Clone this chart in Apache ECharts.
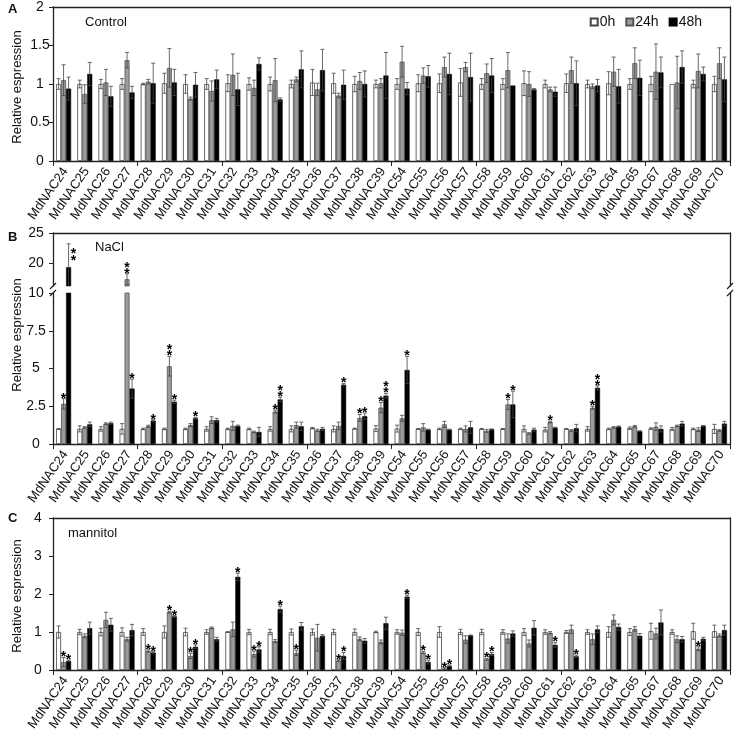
<!DOCTYPE html>
<html><head><meta charset="utf-8">
<script src="https://cdn.jsdelivr.net/npm/echarts@6/dist/echarts.min.js"></script>
<style>html,body{margin:0;padding:0;background:#fff}#c{width:737px;height:732px}</style>
</head><body><div id="c"></div>
<script>
const categories = ['MdNAC24','MdNAC25','MdNAC26','MdNAC27','MdNAC28','MdNAC29','MdNAC30','MdNAC31','MdNAC32','MdNAC33','MdNAC34','MdNAC35','MdNAC36','MdNAC37','MdNAC38','MdNAC39','MdNAC54','MdNAC55','MdNAC56','MdNAC57','MdNAC58','MdNAC59','MdNAC60','MdNAC61','MdNAC62','MdNAC63','MdNAC64','MdNAC65','MdNAC67','MdNAC68','MdNAC69','MdNAC70'];
const seriesNames = ['0h','24h','48h'];

// Panel A: Control
const ctrl0 = [1.0,1.0,1.0,1.0,1.0,1.01,1.0,1.0,1.01,1.0,1.0,1.0,1.02,1.01,1.0,1.0,1.0,1.01,1.01,1.02,1.0,1.0,1.01,1.0,1.01,1.0,1.01,1.0,1.0,1.0,1.0,1.0];
const ctrl0Err = [0.07,0.05,0.06,0.07,0.01,0.13,0.12,0.07,0.11,0.08,0.09,0.05,0.17,0.13,0.1,0.05,0.07,0.11,0.12,0.18,0.07,0.07,0.16,0.05,0.12,0.05,0.15,0.07,0.1,0.0,0.05,0.1];
const ctrl24 = [1.05,0.87,1.02,1.31,1.03,1.21,0.81,0.91,1.12,0.95,1.05,1.06,0.93,0.85,1.04,1.01,1.29,1.11,1.22,1.22,1.14,1.18,1.0,0.93,1.18,0.97,1.16,1.27,1.16,1.02,1.17,1.27];
const ctrl24Err = [0.2,0.12,0.17,0.1,0.03,0.25,0.02,0.13,0.27,0.1,0.28,0.03,0.08,0.03,0.11,0.06,0.2,0.1,0.13,0.06,0.12,0.23,0.16,0.03,0.17,0.03,0.19,0.2,0.36,0.34,0.22,0.2];
const ctrl48 = [0.94,1.13,0.84,0.89,1.01,1.02,0.99,1.06,0.93,1.26,0.80,1.19,1.18,0.99,1.0,1.11,0.94,1.1,1.13,1.09,1.11,0.98,0.93,0.9,1.01,0.98,0.97,1.08,1.15,1.22,1.13,1.06];
const ctrl48Err = [0.15,0.15,0.13,0.08,0.26,0.17,0.16,0.12,0.21,0.08,0.02,0.24,0.27,0.19,0.17,0.3,0.08,0.14,0.27,0.31,0.22,0.0,0.01,0.06,0.29,0.08,0.22,0.23,0.2,0.21,0.09,0.29];

// Panel B: NaCl
const nacl0 = [1.0,1.0,1.0,1.0,1.0,1.0,1.0,1.0,1.0,1.0,1.0,1.0,1.05,1.0,1.02,1.02,1.02,1.0,1.0,1.0,1.0,1.0,1.0,0.95,1.0,1.0,1.0,1.05,1.02,1.0,1.0,1.0];
const nacl0Err = [0.03,0.2,0.15,0.35,0.05,0.05,0.05,0.15,0.05,0.05,0.15,0.2,0.05,0.2,0.03,0.2,0.23,0.03,0.05,0.05,0.03,0.03,0.2,0.15,0.03,0.15,0.05,0.08,0.05,0.1,0.05,0.3];
const nacl24 = [2.66,1.1,1.35,17.3,1.17,5.15,1.25,1.58,1.2,0.8,2.15,1.25,0.9,1.2,1.73,2.41,1.7,1.1,1.3,1.0,0.87,2.62,0.7,1.45,0.9,2.4,1.1,1.17,1.15,1.2,0.95,0.9];
const nacl24Err = [0.34,0.05,0.05,0.9,0.07,0.65,0.1,0.22,0.3,0.05,0.1,0.2,0.08,0.25,0.22,0.34,0.2,0.25,0.2,0.2,0.1,0.33,0.05,0.05,0.05,0.1,0.05,0.06,0.25,0.05,0.12,0.05];
const nacl48 = [19.3,1.3,1.38,3.67,1.55,2.8,1.7,1.58,1.2,0.8,2.95,1.17,1.0,3.93,1.84,3.2,4.9,0.95,0.95,1.1,0.97,2.62,0.95,1.08,1.05,3.72,1.15,0.85,1.0,1.35,1.2,1.35];
const nacl48Err = [3.9,0.15,0.07,0.63,0.05,0.1,0.05,0.12,0.05,0.3,0.15,0.28,0.1,0.07,0.21,0.15,0.9,0.03,0.03,0.4,0.03,0.88,0.1,0.03,0.25,0.13,0.04,0.03,0.2,0.15,0.03,0.15];
const naclSig24 = [1,0,0,2,0,2,0,0,0,0,1,0,0,0,1,1,0,0,0,0,0,1,0,1,0,1,0,0,0,0,0,0];
const naclSig48 = [2,0,0,1,1,1,1,0,0,0,2,0,0,1,1,2,1,0,0,0,0,1,0,0,0,2,0,0,0,0,0,0];

// Panel C: mannitol
const man0 = [1.0,1.0,1.0,1.0,1.0,1.0,1.0,1.0,1.0,1.0,1.0,1.0,1.0,1.0,1.0,1.0,1.0,1.0,1.0,1.0,1.0,1.0,1.0,1.0,1.0,1.0,1.0,1.0,1.02,1.0,1.02,1.02];
const man0Err = [0.16,0.07,0.1,0.11,0.09,0.16,0.1,0.06,0.01,0.07,0.07,0.08,0.08,0.07,0.08,0.02,0.06,0.09,0.14,0.07,0.07,0.06,0.09,0.06,0.04,0.06,0.14,0.09,0.21,0.06,0.21,0.16];
const man24 = [0.21,0.9,1.32,0.81,0.5,1.52,0.37,1.11,1.07,0.42,0.76,0.45,0.85,0.25,0.82,0.74,0.98,0.46,0.04,0.8,0.28,0.83,0.7,0.98,1.07,0.81,1.32,1.08,0.96,0.81,0.56,0.91];
const man24Err = [0.12,0.05,0.2,0.05,0.03,0.02,0.07,0.02,0.19,0.08,0.04,0.07,0.35,0.02,0.05,0.05,0.07,0.03,0.02,0.1,0.02,0.12,0.09,0.03,0.11,0.14,0.13,0.06,0.14,0.09,0.05,0.04];
const man48 = [0.24,1.1,1.19,1.05,0.46,1.41,0.61,0.81,2.45,0.54,1.6,1.15,0.9,0.37,0.77,1.23,1.93,0.21,0.11,0.91,0.42,0.96,1.11,0.66,0.36,1.07,1.13,0.9,1.25,0.81,0.82,1.05];
const man48Err = [0.02,0.16,0.17,0.15,0.02,0.02,0.05,0.05,0.1,0.07,0.08,0.1,0.03,0.09,0.06,0.16,0.04,0.05,0.02,0.01,0.04,0.07,0.19,0.06,0.03,0.09,0.08,0.06,0.33,0.07,0.04,0.13];
const manSig24 = [1,0,0,0,1,1,1,0,0,1,0,1,0,1,0,0,0,1,1,0,1,0,0,0,0,0,0,0,0,0,1,0];
const manSig48 = [1,0,0,0,1,1,1,0,1,1,1,0,0,1,0,0,1,1,1,0,1,0,0,1,1,0,0,0,0,0,0,0];

const yTicksA = [0, 2, 0.5];
const yTicksBUp = [20, 25];
const yTicksBLow = [0, 10, 2.5];
const yTicksC = [0, 4, 1];
</script>
<script>
const FONT = '"Liberation Sans", Arial, sans-serif';
const BW = 5;
const LABEL_ROT = 55 * Math.PI / 180;
const AX = {color:'#222', width:1.3};
const styles = [
  {color:'#ffffff', borderColor:'#444', borderWidth:0.8},
  {color:'#9b9b9b', borderColor:'#555', borderWidth:0.8},
  {color:'#000000', borderColor:'#000', borderWidth:0.5}
];

const grids = [
  {left:53, right:7, top:7, height:154},
  {left:53, right:7, top:233, height:53},
  {left:53, right:7, top:293, height:151},
  {left:53, right:7, top:518, height:152}
];

function catAxis(gi, show) {
  return {type:'category', gridIndex:gi, data:categories, show:show,
    axisLine:{lineStyle:AX}, axisTick:{show:true, length:5, lineStyle:{color:'#222', width:1}},
    axisLabel:{show:false}};
}
function topAxis(gi) {
  return {type:'category', gridIndex:gi, data:categories, position:'top',
    axisLine:{onZero:false, lineStyle:AX}, axisTick:{show:false}, axisLabel:{show:false}};
}
function valAxis(gi, min, max, interval, margin, extra) {
  const a = {type:'value', gridIndex:gi, min:min, max:max, splitLine:{show:false},
    axisLine:{show:true, lineStyle:AX}, axisTick:{show:true, length:4, lineStyle:{color:'#222'}},
    axisLabel:{fontSize:14, color:'#111', fontFamily:FONT, margin:margin, align:'center'}};
  if (interval != null) a.interval = interval;
  return Object.assign(a, extra || {});
}
function rightAxis(gi, min, max) {
  return {type:'value', gridIndex:gi, position:'right', min:min, max:max, splitLine:{show:false},
    axisLine:{show:true, onZero:false, lineStyle:AX}, axisTick:{show:false}, axisLabel:{show:false}};
}

const xAxis = [catAxis(0,true), catAxis(1,false), catAxis(2,true), catAxis(3,true), topAxis(0), topAxis(1), topAxis(3)];
const upMin = 16.17;
const yAxis = [
  valAxis(0, yTicksA[0], yTicksA[1], yTicksA[2], 13),
  valAxis(1, upMin, 25, null, 17, {axisLabel:{fontSize:14, color:'#111', fontFamily:FONT, margin:17, align:'center', customValues:yTicksBUp}, axisTick:{show:true, length:4, lineStyle:{color:'#222'}, customValues:yTicksBUp}}),
  valAxis(2, yTicksBLow[0], yTicksBLow[1], yTicksBLow[2], 17),
  valAxis(3, yTicksC[0], yTicksC[1], yTicksC[2], 15),
  rightAxis(0, 0, 2), rightAxis(1, upMin, 25), rightAxis(2, 0, 10), rightAxis(3, 0, 4)
];

const series = [];
function addBars(xi, yi, lists) {
  lists.forEach((d, k) => {
    series.push({type:'bar', name:seriesNames[k], xAxisIndex:xi, yAxisIndex:yi, data:d,
      barWidth:BW, barGap:'0%', itemStyle:styles[k], clip:true, animation:false});
  });
}
function addErr(xi, yi, vals, errs, sigs, k, mode) {
  const data = vals.map((v, i) => [i, v, errs[i], sigs ? sigs[i] : 0]);
  series.push({type:'custom', name:'err'+k+'_'+xi, xAxisIndex:xi, yAxisIndex:yi, data:data, z:5, animation:false,
    renderItem: function(params, api) {
      const i = api.value(0), v = api.value(1), e = api.value(2), s = api.value(3);
      if (mode === 'low' && v > 10) return;
      if (mode === 'up' && v <= 10) return;
      const cs = params.coordSys;
      const cx = api.coord([i, v])[0] + (k - 1) * BW;
      let yT = api.coord([i, v + e])[1];
      let yB = api.coord([i, Math.max(v - e, 0)])[1];
      yB = Math.min(yB, cs.y + cs.height);
      const ch = [];
      const ls = {stroke:'#444', lineWidth:0.8};
      if (e > 0) {
        ch.push({type:'line', shape:{x1:cx, y1:yT, x2:cx, y2:yB}, style:ls});
        ch.push({type:'line', shape:{x1:cx-2, y1:yT, x2:cx+2, y2:yT}, style:ls});
        if (v - e > 0 && yB < cs.y + cs.height) ch.push({type:'line', shape:{x1:cx-2, y1:yB, x2:cx+2, y2:yB}, style:ls});
      }
      const side = (yT - 7 * s - 4 < cs.y);
      for (let j = 0; j < s; j++) {
        const sx = side ? cx + 5 : cx;
        const sy = side ? yT + 3 + j * 7 : yT - 7 - j * 6;
        ch.push({type:'text', style:{text:'*', x:sx, y:sy, textAlign:'center', textVerticalAlign:'top',
          fontSize:14, fontWeight:'bold', fontFamily:FONT, fill:'#000'}});
      }
      return {type:'group', children:ch};
    }});
}
// rotated category labels, drawn from the categories array
function addCatLabels(xi, yi) {
  series.push({type:'custom', name:'lab'+xi, xAxisIndex:xi, yAxisIndex:yi, silent:true, animation:false,
    data:categories.map((c, i) => [i, 0]),
    renderItem: function(params, api) {
      const i = api.value(0);
      const cs = params.coordSys;
      const x = api.coord([i, 0])[0] + 2;
      const y = cs.y + cs.height + 8;
      return {type:'text', x:x, y:y, rotation:LABEL_ROT,
        style:{text:categories[i], textAlign:'right', textVerticalAlign:'middle', fontSize:13, fontFamily:FONT, fill:'#111'}};
    }});
}

addBars(0, 0, [ctrl0, ctrl24, ctrl48]);
addErr(0, 0, ctrl0, ctrl0Err, null, 0, 'all');
addErr(0, 0, ctrl24, ctrl24Err, null, 1, 'all');
addErr(0, 0, ctrl48, ctrl48Err, null, 2, 'all');
addBars(1, 1, [nacl0, nacl24, nacl48]);
addBars(2, 2, [nacl0, nacl24, nacl48]);
addErr(1, 1, nacl0, nacl0Err, null, 0, 'up');
addErr(1, 1, nacl24, nacl24Err, naclSig24, 1, 'up');
addErr(1, 1, nacl48, nacl48Err, naclSig48, 2, 'up');
addErr(2, 2, nacl0, nacl0Err, null, 0, 'low');
addErr(2, 2, nacl24, nacl24Err, naclSig24, 1, 'low');
addErr(2, 2, nacl48, nacl48Err, naclSig48, 2, 'low');
addBars(3, 3, [man0, man24, man48]);
addErr(3, 3, man0, man0Err, null, 0, 'all');
addErr(3, 3, man24, man24Err, manSig24, 1, 'all');
addErr(3, 3, man48, man48Err, manSig48, 2, 'all');
addCatLabels(0, 0);
addCatLabels(2, 2);
addCatLabels(3, 3);

function txt(text, x, y, font) {
  return {type:'text', x:x, y:y, z:10, style:{text:text, font:font, fill:'#111'}};
}
const yTitle = 'Relative espression';
function vtitle(y) {
  return {type:'text', x:17, y:y, rotation:Math.PI/2, z:10, style:{text:yTitle, font:'13px ' + FONT, fill:'#111', textAlign:'center', textVerticalAlign:'middle'}};
}
const graphic = [
  txt('A', 8, 3, 'bold 13px ' + FONT),
  txt('B', 8, 231, 'bold 13px ' + FONT),
  txt('C', 8, 512, 'bold 13px ' + FONT),
  txt('Control', 85, 16, '13px ' + FONT),
  txt('NaCl', 95, 241, '13px ' + FONT),
  txt('mannitol', 68, 527, '13px ' + FONT),
  vtitle(87), vtitle(335), vtitle(596),
  {type:'line', z:10, shape:{x1:50, y1:289, x2:56, y2:283}, style:{stroke:'#222', lineWidth:1.2}},
  {type:'line', z:10, shape:{x1:50, y1:296, x2:56, y2:290}, style:{stroke:'#222', lineWidth:1.2}},
  {type:'line', z:10, shape:{x1:727, y1:289, x2:733, y2:283}, style:{stroke:'#222', lineWidth:1.2}},
  {type:'line', z:10, shape:{x1:727, y1:296, x2:733, y2:290}, style:{stroke:'#222', lineWidth:1.2}}
];

const chart = echarts.init(document.getElementById('c'), null, {renderer:'canvas'});
chart.setOption({
  animation:false,
  backgroundColor:'#fff',
  textStyle:{fontFamily:FONT},
  grid:grids,
  xAxis:xAxis,
  yAxis:yAxis,
  legend:{data:seriesNames.map(n => ({name:n, icon:'rect'})), right:35, top:15, itemWidth:7, itemHeight:7, itemGap:10,
    textStyle:{fontSize:14, color:'#111', fontFamily:FONT, padding:[0,0,0,-3]}, padding:0},
  graphic:graphic,
  series:series
});
</script>
</body></html>
